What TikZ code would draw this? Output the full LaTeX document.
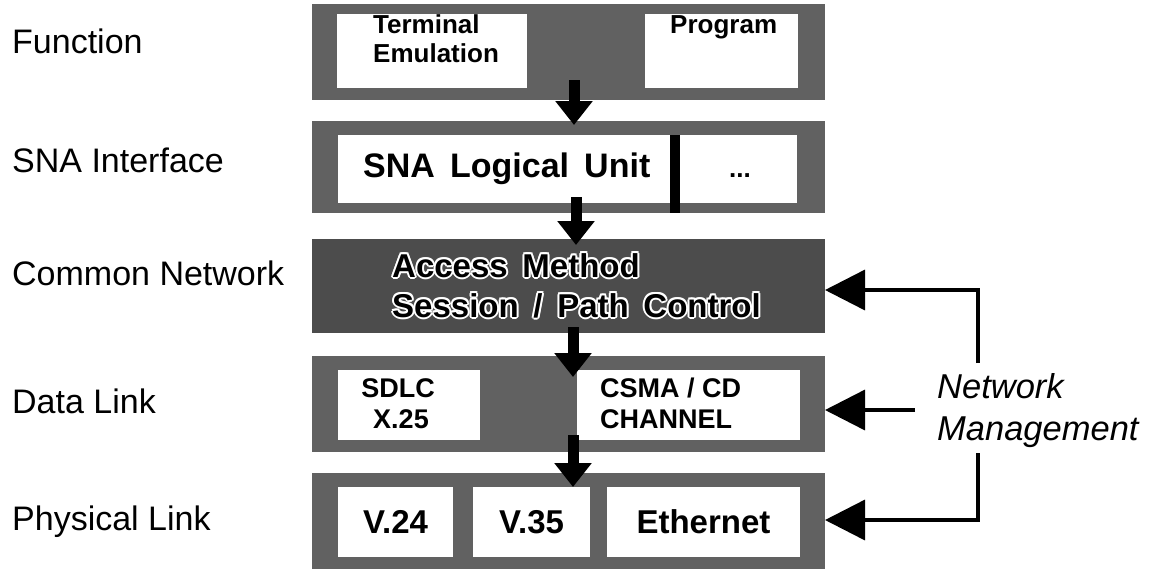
\documentclass[tikz,border=0pt]{standalone}
\usepackage{fontspec}
\setmainfont{Liberation Sans}
\usetikzlibrary{arrows.meta}
\definecolor{bandgray}{gray}{0.38}
\definecolor{banddark}{gray}{0.30}
\begin{document}
\begin{tikzpicture}[x=1pt,y=-1pt,
  band/.style={fill=bandgray, draw=none, inner sep=0pt, outer sep=0pt, anchor=north west},
  wbox/.style={fill=white, draw=none, inner sep=0pt, outer sep=0pt, anchor=north west},
  lbl/.style={anchor=base west, inner sep=0pt, font=\fontsize{34}{38}\selectfont},
  btxt/.style={anchor=base, inner sep=0pt, font=\bfseries\fontsize{33}{38}\selectfont},
  ftxt/.style={anchor=base west, inner sep=0pt, font=\bfseries\fontsize{26}{30}\selectfont},
  dtxt/.style={anchor=base west, inner sep=0pt, font=\bfseries\fontsize{27}{30}\selectfont},
  mtxt/.style={anchor=base west, inner sep=0pt, font=\bfseries\fontsize{33}{38}\selectfont},
  nmtxt/.style={anchor=base west, inner sep=0pt, font=\itshape\fontsize{34.5}{38}\selectfont},
  darrow/.style={line width=11pt, -{Triangle[width=36pt,length=24pt]}},
  nmarrow/.style={line width=3.5pt, -{Triangle[width=40pt,length=40pt]}}
]
\useasboundingbox (0,0) rectangle (1161,571);

% ---- left labels
\node[lbl] (lf) at (12,53) {Function};
\node[lbl] (ls) at (12,172) {SNA Interface};
\node[lbl] (lc) at (12,285) {Common Network};
\node[lbl] (ld) at (12,413) {Data Link};
\node[lbl] (lp) at (12,530) {Physical Link};

% ---- bands
\node[band, minimum width=513pt, minimum height=96pt] (L1) at (312,4) {};
\node[band, minimum width=513pt, minimum height=92pt] (L2) at (312,121) {};
\node[band, fill=banddark, minimum width=513pt, minimum height=94pt] (L3) at (312,239) {};
\node[band, minimum width=513pt, minimum height=96pt] (L4) at (312,356) {};
\node[band, minimum width=513pt, minimum height=96pt] (L5) at (312,473) {};

% ---- Function layer
\node[wbox, minimum width=190pt, minimum height=74pt] (term) at (337,14) {};
\node[wbox, minimum width=153pt, minimum height=74pt] (prog) at (645,14) {};
\node[ftxt] (t1) at (373,33) {Terminal};
\node[ftxt] (t2) at (373,62) {Emulation};
\node[ftxt] (t3) at (670,33) {Program};

% ---- SNA interface layer
\node[wbox, minimum width=332pt, minimum height=68pt] (lu) at (338,135) {};
\node[wbox, fill=black, minimum width=10pt, minimum height=78pt] (bar) at (670,135) {};
\node[wbox, minimum width=117pt, minimum height=68pt] (dots) at (680,135) {};
\node[mtxt, font=\bfseries\fontsize{34}{38}\selectfont] (lut) at (363,177) {SNA\, Logical\, Unit};
\node[btxt, font=\bfseries\fontsize{26}{30}\selectfont] (dt) at (740,177) {...};

% ---- Common network layer (black text with white halo)
\foreach \dx/\dy [count=\k] in {2/0,-2/0,0/2,0/-2,1.4/1.4,-1.4/1.4,1.4/-1.4,-1.4/-1.4}{
  \node[mtxt, text=white] (hA\k) at (392+\dx,277+\dy) {Access\, Method};
  \node[mtxt, text=white] (hS\k) at (392+\dx,317+\dy) {Session\, /\, Path\, Control};
}
\node[mtxt] (am) at (392,277) {Access\, Method};
\node[mtxt] (sp) at (392,317) {Session\, /\, Path\, Control};

% ---- Data link layer
\node[wbox, minimum width=142pt, minimum height=70pt] (sdlc) at (338,370) {};
\node[wbox, minimum width=223pt, minimum height=70pt] (csma) at (577,370) {};
\node[dtxt, anchor=base] (s1) at (398,397) {SDLC};
\node[dtxt, anchor=base] (s2) at (401,428) {X.25};
\node[dtxt] (c1) at (600,397) {CSMA / CD};
\node[dtxt] (c2) at (600,428) {CHANNEL};

% ---- Physical link layer
\node[wbox, minimum width=115pt, minimum height=70pt] (v24) at (338,487) {};
\node[wbox, minimum width=117pt, minimum height=70pt] (v35) at (473,487) {};
\node[wbox, minimum width=193pt, minimum height=70pt] (eth) at (607,487) {};
\node[btxt] (v24t) at (v24.center |- 0,533) {V.24};
\node[btxt] (v35t) at (v35.center |- 0,533) {V.35};
\node[btxt] (etht) at (eth.center |- 0,533) {Ethernet};

% ---- downward arrows between layers
\coordinate (a1s) at (574,80);  \coordinate (a1e) at (574,125);
\coordinate (a2s) at (576,197); \coordinate (a2e) at (576,245);
\coordinate (a3s) at (573,327); \coordinate (a3e) at (573,377);
\coordinate (a4s) at (573,435); \coordinate (a4e) at (573,487);
\draw[darrow] (a1s) -- (a1e);
\draw[darrow] (a2s) -- (a2e);
\draw[darrow] (a3s) -- (a3e);
\draw[darrow] (a4s) -- (a4e);

% ---- network management
\node[nmtxt] (nm1) at (937,398) {Network};
\node[nmtxt] (nm2) at (937,440) {Management};
\coordinate (n1s) at (978,363); \coordinate (n1e) at (L3.east |- 0,290);
\coordinate (n2s) at (915,410); \coordinate (n2e) at (L4.east |- 0,410);
\coordinate (n3s) at (978,453); \coordinate (n3e) at (L5.east |- 0,520);
\draw[nmarrow] (n1s) |- (n1e);
\draw[nmarrow] (n2s) -- (n2e);
\draw[nmarrow] (n3s) |- (n3e);
\end{tikzpicture}
\end{document}
